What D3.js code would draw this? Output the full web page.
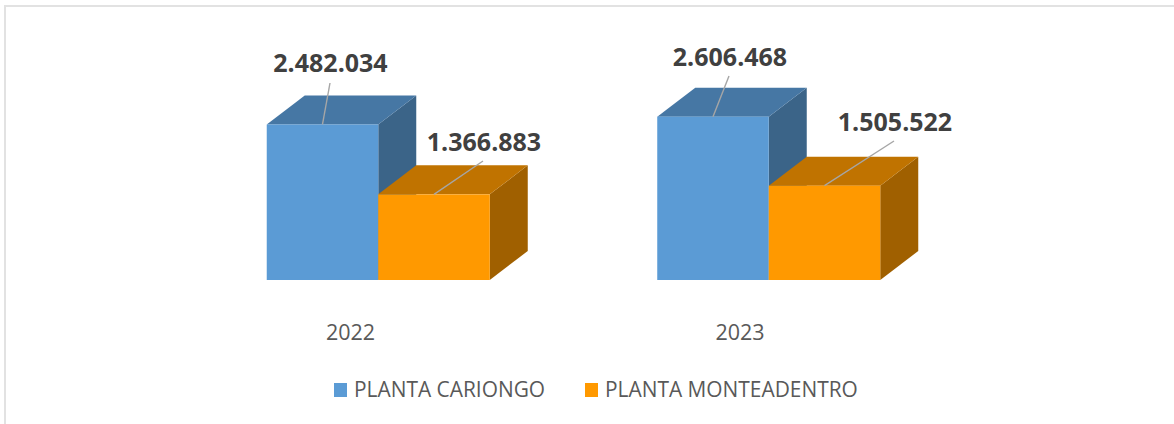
<!DOCTYPE html>
<html><head><meta charset="utf-8">
<script src="https://cdn.jsdelivr.net/npm/d3@7"></script>
<style>html,body{margin:0;padding:0;background:#fff}svg{display:block}</style>
</head><body><svg id="c" width="1174" height="424"></svg>
<script>
const years = ["2022","2023"];
const seriesNames = ["PLANTA CARIONGO","PLANTA MONTEADENTRO"];
const cariongo = [2482034,2606468];
const monteadentro = [1366883,1505522];
const frontColors = ["#5b9bd5","#ff9900"];
const topColors = ["#4677a4","#c07300"];
const sideColors = ["#3b6488","#a06000"];
const labelLeaderTop = [[330,83],[483,161],[729,76],[894,141]];

const svg = d3.select("#c");
const y = d3.scaleLinear().domain([0,3000000]).range([280,92]);
const x0 = d3.scaleBand().domain(years).range([183,964]);
const x1 = d3.scaleBand().domain([0,1]).range([0,x0.bandwidth()]).paddingInner(0).paddingOuter(0.751);
const dx=38, dy=-29;

// frame
svg.append("path").attr("d","M5,424V6H1174").attr("fill","none").attr("stroke","#e2e2e2").attr("stroke-width",2);

const fmt = v => d3.format(",d")(v).replace(/,/g,".");
const rows=[];
years.forEach((yr,i)=>{
  [cariongo[i],monteadentro[i]].forEach((v,s)=>rows.push({yr,s,v}));
});

const g = svg.append("g");
rows.forEach(d=>{
  const xl=x0(d.yr)+x1(d.s), xr=xl+x1.bandwidth(), yt=y(d.v), yb=y(0);
  const b=g.append("g");
  b.append("path").attr("d",`M${xr},${yb}L${xr+dx},${yb+dy}L${xr+dx},${yt+dy}L${xr},${yt}Z`).attr("fill",sideColors[d.s]);
  b.append("path").attr("d",`M${xl},${yt}L${xl+dx},${yt+dy}L${xr+dx},${yt+dy}L${xr},${yt}Z`).attr("fill",topColors[d.s]);
  b.append("rect").attr("x",xl).attr("y",yt).attr("width",xr-xl).attr("height",yb-yt).attr("fill",frontColors[d.s]);
});

// leader lines + value labels
const labelX=[330.5,484,730,895], labelY=[72,151,66,131];
rows.forEach((d,i)=>{
  const xl=x0(d.yr)+x1(d.s), yt=y(d.v);
  const sx = xl + x1.bandwidth()*0.5;
  svg.append("line").attr("x1",sx).attr("y1",yt).attr("x2",labelLeaderTop[i][0]).attr("y2",labelLeaderTop[i][1])
    .attr("stroke","#a6a6a6").attr("stroke-width",1.4);
  svg.append("text").attr("x",labelX[i]).attr("y",labelY[i]).attr("text-anchor","middle")
    .attr("font-family","Open Sans").attr("font-weight",700).attr("font-size",25).attr("fill","#404040").text(fmt(d.v));
});

// category axis
const axisX=[350.5,740];
years.forEach((yr,i)=>{
  svg.append("text").attr("x",axisX[i]).attr("y",340).attr("text-anchor","middle")
    .attr("font-family","Open Sans").attr("font-size",21.5).attr("fill","#595959").text(yr);
});

// legend
const legX=[334,585], legTextX=[354,605];
seriesNames.forEach((n,i)=>{
  svg.append("rect").attr("x",legX[i]).attr("y",383).attr("width",13).attr("height",14).attr("fill",frontColors[i]);
  svg.append("text").attr("x",legTextX[i]).attr("y",397).attr("font-family","Open Sans").attr("font-size",20.9).attr("fill","#595959").text(n);
});
</script></body></html>
